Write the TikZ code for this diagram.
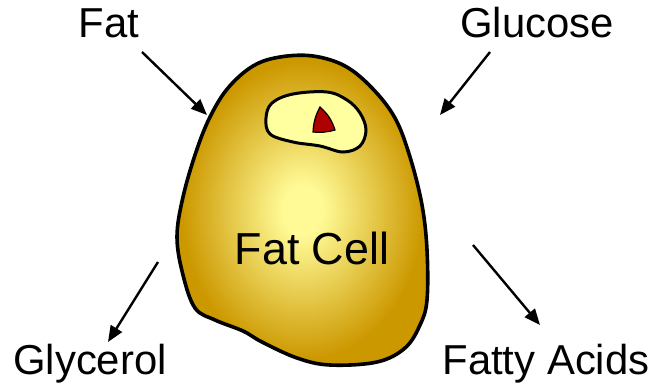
\documentclass[tikz,border=0pt]{standalone}
\usepackage{fontspec}
\setmainfont{Liberation Sans}
\usetikzlibrary{arrows.meta}
\definecolor{cellgold}{RGB}{204,152,0}
\definecolor{cellhi}{RGB}{255,250,150}
\definecolor{nucleuscolor}{RGB}{255,255,160}
\definecolor{nucleolus}{RGB}{175,0,0}
\pgfdeclareradialshading{cell glow}{\pgfpoint{0bp}{0bp}}{%
    color(0bp)=(cellhi); color(4bp)=(cellhi); color(24bp)=(cellgold); color(50bp)=(cellgold)}
\tikzset{
    cell style/.style={draw=black,line width=3.6bp,shading=cell glow},
    nucleus style/.style={draw=black,line width=3bp,fill=nucleuscolor},
    nucleolus style/.style={draw=black,line width=1.2bp,fill=nucleolus},
    arr/.style={-{Triangle[length=16bp,width=13bp]},line width=2.4bp},
    label/.style={font=\fontsize{42}{48}\selectfont,inner sep=0pt,anchor=base},
}
\begin{document}
\begin{tikzpicture}[x=1bp,y=-1bp]
    \useasboundingbox (0,0) rectangle (657,385);
    % the cell
    \draw[cell style] plot[smooth cycle,tension=.6] coordinates {
        (280,57) (313,56) (345,66) (372,88) (395,118) (410,157) (422,205)
        (427,250) (427,300) (420,325) (405,348) (377,362) (330,365) (297,358)
        (262,342) (243,331) (215,320) (195,308) (183,275) (177,237) (183,197)
        (196,152) (210,117) (228,88) (253,66)};
    % nucleus and nucleolus
    \draw[nucleus style] plot[smooth cycle,tension=.6] coordinates {
        (272,103) (293,94) (327,92) (347,100) (360,113) (366,130) (360,146)
        (343,152) (320,146) (293,142) (270,134) (266,118)};
    \draw[nucleolus style] (320,107) to[bend left=15] (335,130)
        to[bend left=10] (313,132) to[bend left=12] cycle;
    \node[label,font=\fontsize{45}{50}\selectfont] (cell) at (312,264) {Fat Cell};
    % what goes in and out
    \node[label] (fat) at (109,37) {Fat};
    \node[label] (glucose) at (537,37) {Glucose};
    \node[label] (glycerol) at (90,374) {Glycerol};
    \node[label] (fatty) at (546,374) {Fatty Acids};
    \coordinate (fat tail) at (142,52);
    \coordinate (fat in) at (207,115);
    \coordinate (glucose tail) at (490,52);
    \coordinate (glucose in) at (440,115);
    \coordinate (glycerol out) at (158,262);
    \coordinate (glycerol head) at (108,342);
    \coordinate (fatty out) at (473,245);
    \coordinate (fatty head) at (540,325);
    \draw[arr] (fat tail) -- (fat in);
    \draw[arr] (glucose tail) -- (glucose in);
    \draw[arr] (glycerol out) -- (glycerol head);
    \draw[arr] (fatty out) -- (fatty head);
\end{tikzpicture}
\end{document}
